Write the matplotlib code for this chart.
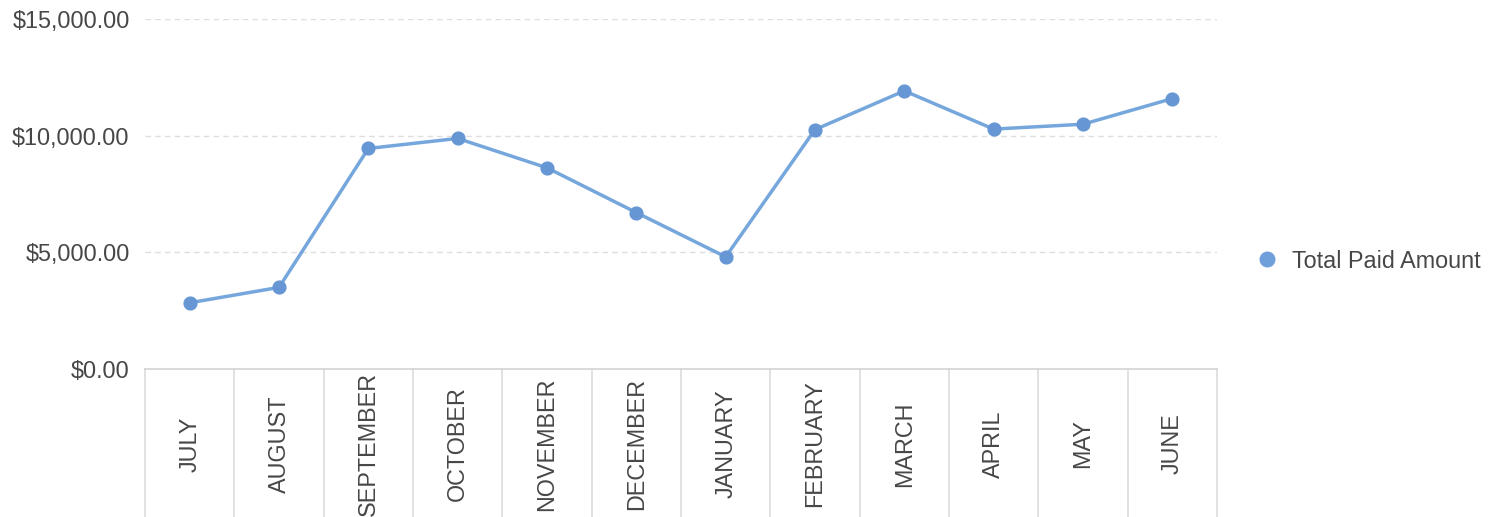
import matplotlib
matplotlib.use("Agg")
import matplotlib.pyplot as plt
import matplotlib.transforms as mtransforms
from matplotlib.lines import Line2D
from matplotlib.ticker import FuncFormatter

months = ["JULY", "AUGUST", "SEPTEMBER", "OCTOBER", "NOVEMBER", "DECEMBER",
          "JANUARY", "FEBRUARY", "MARCH", "APRIL", "MAY", "JUNE"]
total_paid = [2840, 3500, 9460, 9890, 8630, 6710,
              4810, 10270, 11930, 10290, 10500, 11600]
y_ticks = [0, 5000, 10000, 15000]
series_name = "Total Paid Amount"

plt.rcParams["font.family"] = ["Liberation Sans", "DejaVu Sans"]
TEXT = "#474747"
LINE = "#76a7dc"
MARK = "#6697d4"
GRID = "#dedede"
FS = 16.8

W, H = 1489, 517
fig = plt.figure(figsize=(W / 100, H / 100), dpi=100)
left, right, top, bottom = 145, 1217, 19.3, 369
ax = fig.add_axes([left / W, 1 - bottom / H, (right - left) / W, (bottom - top) / H])

x = list(range(len(months)))
ax.plot(x, total_paid, color=LINE, linewidth=2.5, marker="o",
        markersize=9.2, markerfacecolor=MARK, markeredgecolor=MARK, zorder=3)

ax.set_xlim(-0.5, len(months) - 0.5)
ax.set_ylim(0, 15000)

# horizontal dashed gridlines
for v in y_ticks[1:]:
    ax.axhline(v, color=GRID, linewidth=1, linestyle=(0, (4, 3)), zorder=1)

ax.set_yticks(y_ticks)
ax.yaxis.set_major_formatter(FuncFormatter(lambda v, p: f"${v:,.2f}"))
ax.tick_params(axis="y", length=0, pad=11, labelsize=FS, labelcolor=TEXT)
ax.set_xticks([])

for side in ("top", "left", "right"):
    ax.spines[side].set_visible(False)
ax.spines["bottom"].set_color("#d4d4d4")
ax.spines["bottom"].set_linewidth(1.2)

# category cells below the axis
trans = mtransforms.blended_transform_factory(ax.transData, ax.transAxes)
for i in range(len(months) + 1):
    ax.add_line(Line2D([i - 0.5, i - 0.5], [0, -1], transform=trans,
                       color="#dcdcdc", linewidth=1.2, clip_on=False))
for i, m in enumerate(months):
    ax.text(i, -0.2145, m, transform=trans, rotation=90, ha="center",
            va="center", fontsize=FS, color=TEXT)

handle = Line2D([], [], linestyle="none", marker="o", markersize=10.5,
                markerfacecolor="#6fa0da", markeredgecolor="#6fa0da")
fig.legend([handle], [series_name], loc="center left",
           bbox_to_anchor=(1255.5 / W, 1 - 261 / H), frameon=False,
           borderpad=0, borderaxespad=0, handlelength=1.0,
           handletextpad=0.55, fontsize=FS, labelcolor=TEXT)

fig.savefig("out.png", dpi=100, facecolor="white")
